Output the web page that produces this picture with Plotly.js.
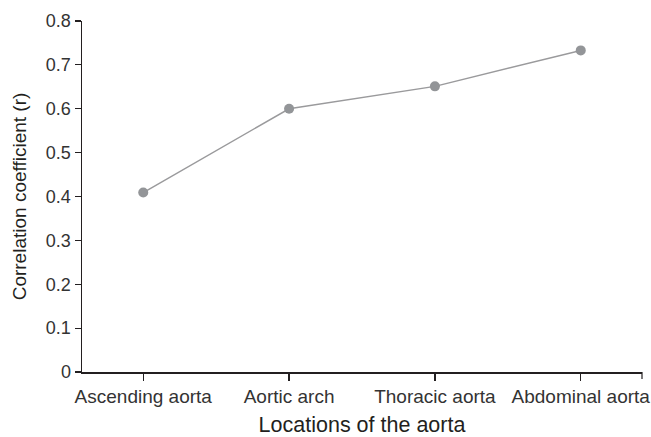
<!DOCTYPE html>
<html>
<head>
<meta charset="utf-8">
<script src="https://cdn.plot.ly/plotly-3.0.1.min.js"></script>
<style>html,body{margin:0;padding:0;background:#fff;}#chart{width:651px;height:437px;}</style>
</head>
<body>
<div id="chart"></div>
<script>
const categories = ["Ascending aorta", "Aortic arch", "Thoracic aorta", "Abdominal aorta"];
const correlation = [0.409, 0.600, 0.651, 0.733];
const yTickValues = [0, 0.1, 0.2, 0.3, 0.4, 0.5, 0.6, 0.7, 0.8];
const yTickLabels = ["0", "0.1", "0.2", "0.3", "0.4", "0.5", "0.6", "0.7", "0.8"];

const trace = {
  x: categories,
  y: correlation,
  type: "scatter",
  mode: "lines+markers",
  line: {color: "#9a9a9c", width: 1.5},
  marker: {color: "#939598", size: 10},
  hoverinfo: "x+y"
};

const layout = {
  width: 651,
  height: 437,
  margin: {l: 82, r: 9, t: 21, b: 65},
  paper_bgcolor: "#ffffff",
  plot_bgcolor: "#ffffff",
  showlegend: false,
  font: {family: "Liberation Sans, Arial, sans-serif", color: "#333333"},
  xaxis: {
    type: "category",
    range: [-0.42, 3.42],
    showgrid: false,
    zeroline: false,
    showline: true,
    linecolor: "#231f20",
    linewidth: 1.5,
    ticks: "outside",
    ticklen: 7,
    tickwidth: 1.2,
    tickcolor: "#231f20",
    tickfont: {size: 19, color: "#333333"},
    title: {text: "Locations of the aorta", font: {size: 21.5, color: "#231f20"}, standoff: 12}
  },
  yaxis: {
    range: [0, 0.8],
    tickvals: yTickValues,
    ticktext: yTickLabels,
    showgrid: false,
    zeroline: false,
    showline: true,
    linecolor: "#231f20",
    linewidth: 1.5,
    ticks: "outside",
    ticklen: 6,
    tickwidth: 1.2,
    tickcolor: "#231f20",
    tickfont: {size: 18, color: "#333333"},
    title: {text: "Correlation coefficient (r)", font: {size: 19, color: "#231f20"}, standoff: 14}
  },
  shapes: [{
    type: "line", xref: "paper", yref: "paper",
    x0: 1, x1: 1, y0: 0, y1: -0.02,
    line: {color: "#231f20", width: 1.2}
  }]
};

Plotly.newPlot("chart", [trace], layout, {displayModeBar: false, staticPlot: true});
</script>
</body>
</html>
